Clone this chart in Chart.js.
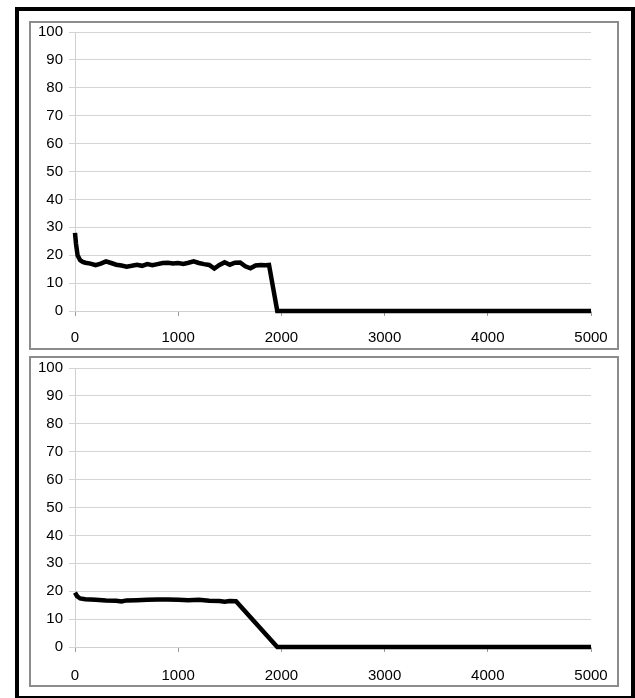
<!DOCTYPE html>
<html>
<head>
<meta charset="utf-8">
<script src="https://cdn.jsdelivr.net/npm/chart.js@4.4.1/dist/chart.umd.min.js"></script>
<style>
    body { margin: 0; background: #fff; width: 635px; height: 698px; overflow: hidden; position: relative; }
    #frame { position: absolute; left: 15px; top: 7px; width: 620px; height: 693px; border: 4px solid #000; box-sizing: border-box; }
    .panel { position: absolute; left: 29px; width: 590px; border: 2px solid #8c8c8c; box-sizing: border-box; background: #fff; }
    #panelTop { top: 21px; height: 329px; }
    #panelBottom { top: 356px; height: 331px; }
    .panel canvas { position: absolute; left: 0; top: 0; }
</style>
</head>
<body>
<div id="frame"></div>
<div class="panel" id="panelTop"><canvas id="chartTop" width="586" height="325"></canvas></div>
<div class="panel" id="panelBottom"><canvas id="chartBottom" width="586" height="327"></canvas></div>

<script>
// top run
const topX = [0, 10, 25, 50, 75, 100, 150, 200, 250, 300, 350, 400, 450, 500, 550, 600, 650, 700, 750, 800,
    850, 900, 950, 1000, 1050, 1100, 1150, 1200, 1250, 1300, 1350, 1400, 1450, 1500, 1550, 1600, 1650, 1700,
    1750, 1800, 1850, 1880, 1960, 5000];
const topY = [28, 24, 20, 18.2, 17.6, 17.3, 17, 16.4, 17, 17.8, 17.2, 16.6, 16.3, 15.9, 16.2, 16.6, 16.2, 16.8,
    16.4, 16.8, 17.2, 17.3, 17, 17.2, 16.9, 17.3, 17.8, 17.2, 16.8, 16.5, 15.2, 16.5, 17.5, 16.6, 17.3, 17.4,
    16.0, 15.3, 16.3, 16.5, 16.4, 16.5, 0, 0];

// bottom run
const bottomX = [0, 20, 50, 100, 200, 300, 400, 450, 500, 600, 700, 800, 900, 1000, 1100, 1200, 1300, 1400,
    1450, 1500, 1560, 1960, 5000];
const bottomY = [19.5, 18.2, 17.4, 17.1, 16.9, 16.7, 16.6, 16.3, 16.7, 16.8, 16.9, 17, 17, 16.9, 16.8, 16.9,
    16.6, 16.5, 16.2, 16.5, 16.4, 0, 0];

const xTicks = [0, 1000, 2000, 3000, 4000, 5000];
const yTicks = [0, 10, 20, 30, 40, 50, 60, 70, 80, 90, 100];

Chart.defaults.font.family = '"Liberation Sans", Arial, sans-serif';
Chart.defaults.font.size = 15;
Chart.defaults.color = '#000';

function makeChart(id, xs, ys, padTop, xHeight, xPad) {
    const points = xs.map((x, i) => ({ x: x, y: ys[i] }));
    return new Chart(document.getElementById(id), {
        type: 'line',
        data: {
            datasets: [{
                data: points,
                borderColor: '#000',
                borderWidth: 4.5,
                pointRadius: 0,
                tension: 0,
                fill: false,
                clip: false
            }]
        },
        options: {
            responsive: false,
            animation: false,
            layout: { padding: { top: padTop, right: 26, left: 0, bottom: 0 } },
            plugins: { legend: { display: false }, tooltip: { enabled: false } },
            scales: {
                x: {
                    type: 'linear',
                    min: 0,
                    max: 5000,
                    afterFit: s => {
                        s.height = xHeight;
                        s.paddingLeft = 0;
                        s.paddingRight = 0;
                    },
                    afterBuildTicks: s => { s.ticks = xTicks.map(v => ({ value: v })); },
                    ticks: { padding: xPad, maxRotation: 0, callback: v => String(v) },
                    grid: { drawOnChartArea: false, drawTicks: true, tickLength: 5, color: '#9a9a9a' },
                    border: { display: true, color: '#d0d0d0', width: 1 }
                },
                y: {
                    min: 0,
                    max: 100,
                    afterFit: s => {
                        s.width = 44;
                        s.paddingTop = 0;
                        s.paddingBottom = 0;
                    },
                    afterBuildTicks: s => { s.ticks = yTicks.map(v => ({ value: v })); },
                    ticks: { padding: 6, callback: v => String(v) },
                    grid: { color: '#d4d4d4', tickLength: 6 },
                    border: { display: true, color: '#d0d0d0', width: 1 }
                }
            }
        }
    });
}

makeChart('chartTop', topX, topY, 9, 37, 13);
makeChart('chartBottom', bottomX, bottomY, 10, 38, 15);
</script>
</body>
</html>
